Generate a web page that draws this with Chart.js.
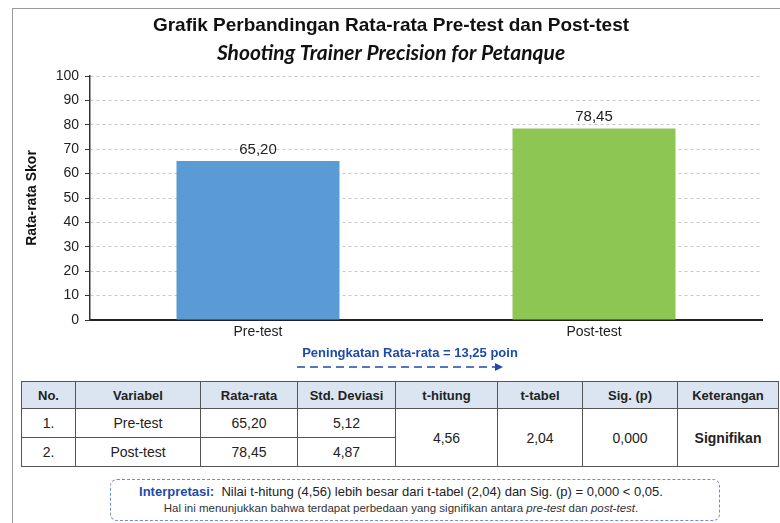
<!DOCTYPE html>
<html>
<head>
<meta charset="utf-8">
<script src="https://cdn.jsdelivr.net/npm/chart.js@4.4.1/dist/chart.umd.min.js"></script>
<style>
  html,body{margin:0;padding:0;background:#fff;}
  body{width:780px;height:523px;position:relative;overflow:hidden;font-family:"Liberation Sans",Arial,sans-serif;color:#222;}
  #frame{position:absolute;left:12px;top:8px;width:800px;height:540px;border:1px solid #9a9a9a;box-sizing:border-box;}
  #wrap{position:absolute;left:0;top:0;width:780px;height:346px;}
  #gain{position:absolute;left:250px;top:345px;width:320px;text-align:center;font-weight:bold;font-size:13px;color:#1f4aa8;}
  #arrow{position:absolute;left:295px;top:361px;}
  table{position:absolute;left:21px;top:381px;border-collapse:collapse;table-layout:fixed;width:757px;}
  td,th{border:1px solid #555;text-align:center;padding:0;font-size:14px;color:#222;}
  th{background:#dbe5f1;font-size:13px;font-weight:bold;height:26px;}
  td{height:28px;}
  #note{position:absolute;left:110px;top:479px;width:610px;height:42px;border:1px dashed #6f8cc8;border-radius:7px;box-sizing:border-box;text-align:center;padding-right:28px;}
  #l1{font-size:13px;margin-top:4px;color:#222;}
  #l1 b{color:#1f4aa8;}
  #l2{font-size:11.5px;margin-top:3px;color:#333;}
</style>
</head>
<body>
<div id="frame"></div>
<div id="wrap"><canvas id="c" width="780" height="346"></canvas></div>
<div id="gain"></div>
<svg id="arrow" width="215" height="12"><line x1="2" y1="6" x2="200" y2="6" stroke="#1f4aa8" stroke-width="1.6" stroke-dasharray="8,5"/><polygon points="200,2 208,6 200,10" fill="#1f4aa8"/></svg>
<table id="tbl"></table>
<div id="note"><div id="l1"></div><div id="l2"></div></div>
<script>
// ---- data ----
const categories = ["Pre-test", "Post-test"];
const meanScores = [65.20, 78.45];
const stdDevs = [5.12, 4.87];
const yTicks = [0,10,20,30,40,50,60,70,80,90,100];
const tHitung = 4.56;
const tTabel = 2.04;
const sigP = "0,000";
const keterangan = "Signifikan";
const tableHeaders = ["No.", "Variabel", "Rata-rata", "Std. Deviasi", "t-hitung", "t-tabel", "Sig. (p)", "Keterangan"];
const barColors = ["#5b9bd5", "#8dc653"];

const fmt = (v, d=2) => v.toFixed(d).replace('.', ',');

// ---- extra text ----
document.getElementById('gain').textContent = 'Peningkatan Rata-rata = ' + fmt(meanScores[1]-meanScores[0]) + ' poin';
const colW = [54,125,97,98,102,85,95,101];
let html = '<colgroup>' + colW.map(w=>'<col style="width:'+w+'px">').join('') + '</colgroup>';
html += '<tr>' + tableHeaders.map(h=>'<th>'+h+'</th>').join('') + '</tr>';
categories.forEach((c,i)=>{
  html += '<tr><td>'+(i+1)+'.</td><td>'+c+'</td><td>'+fmt(meanScores[i])+'</td><td>'+fmt(stdDevs[i])+'</td>';
  if(i===0){
    html += '<td rowspan="2">'+fmt(tHitung)+'</td><td rowspan="2">'+fmt(tTabel)+'</td><td rowspan="2">'+sigP+'</td><td rowspan="2" style="font-weight:bold">'+keterangan+'</td>';
  }
  html += '</tr>';
});
document.getElementById('tbl').innerHTML = html;
document.getElementById('l1').innerHTML = '<b>Interpretasi:</b>&nbsp; Nilai t-hitung ('+fmt(tHitung)+') lebih besar dari t-tabel ('+fmt(tTabel)+') dan Sig. (p) = '+sigP+' &lt; 0,05.';
document.getElementById('l2').innerHTML = 'Hal ini menunjukkan bahwa terdapat perbedaan yang signifikan antara <i>pre-test</i> dan <i>post-test</i>.';

// ---- chart ----
const valueLabels = {
  id: 'valueLabels',
  afterDatasetsDraw(chart){
    const {ctx} = chart;
    const meta = chart.getDatasetMeta(0);
    ctx.save();
    ctx.font = '15px "Liberation Sans", Arial, sans-serif';
    ctx.fillStyle = '#222';
    ctx.textAlign = 'center';
    ctx.textBaseline = 'bottom';
    meta.data.forEach((bar,i)=>{ ctx.fillText(fmt(meanScores[i]), bar.x, bar.y - 4); });
    ctx.restore();
  }
};

new Chart(document.getElementById('c'), {
  type: 'bar',
  data: {
    labels: categories,
    datasets: [{ data: meanScores, backgroundColor: barColors, borderWidth: 0, barPercentage: 0.98, categoryPercentage: 0.495 }]
  },
  options: {
    responsive: false,
    animation: false,
    events: [],
    layout: { padding: { left: 20, right: 18, top: 0, bottom: 0 } },
    plugins: {
      legend: { display: false },
      tooltip: { enabled: false },
      title: { display: true, text: 'Grafik Perbandingan Rata-rata Pre-test dan Post-test', color: '#111',
               font: { family: '"Liberation Sans", Arial, sans-serif', size: 19, weight: 'bold' }, padding: { top: 14, bottom: 4 } },
      subtitle: { display: true, text: 'Shooting Trainer Precision for Petanque', color: '#111',
               font: { family: 'Lato, sans-serif', size: 21, weight: 'bold', style: 'italic' }, padding: { top: 0, bottom: 10 } }
    },
    scales: {
      x: {
        grid: { display: false, drawTicks: false, tickLength: 0 },
        border: { display: true, color: '#222', width: 2 },
        ticks: { color: '#222', font: { family: '"Liberation Sans", Arial, sans-serif', size: 14 }, padding: 4 },
        afterFit(s){ s.height = 26; }
      },
      y: {
        min: 0, max: 100,
        afterBuildTicks(s){ s.ticks = yTicks.map(v=>({value:v})); },
        grid: { color: '#c8c8c8', lineWidth: 1, tickLength: 5, tickColor: '#333', tickBorderDash: [] },
        border: { display: true, color: '#333', width: 1.5, dash: [3,3] },
        ticks: { color: '#222', font: { family: '"Liberation Sans", Arial, sans-serif', size: 14 }, padding: 6 },
        title: { display: true, text: 'Rata-rata Skor', color: '#111', font: { family: '"Liberation Sans", Arial, sans-serif', size: 14, weight: 'bold' }, padding: { top: 4, bottom: 0 } },
        afterFit(s){ s.width = 70; }
      }
    }
  },
  plugins: [valueLabels]
});
</script>
</body>
</html>
